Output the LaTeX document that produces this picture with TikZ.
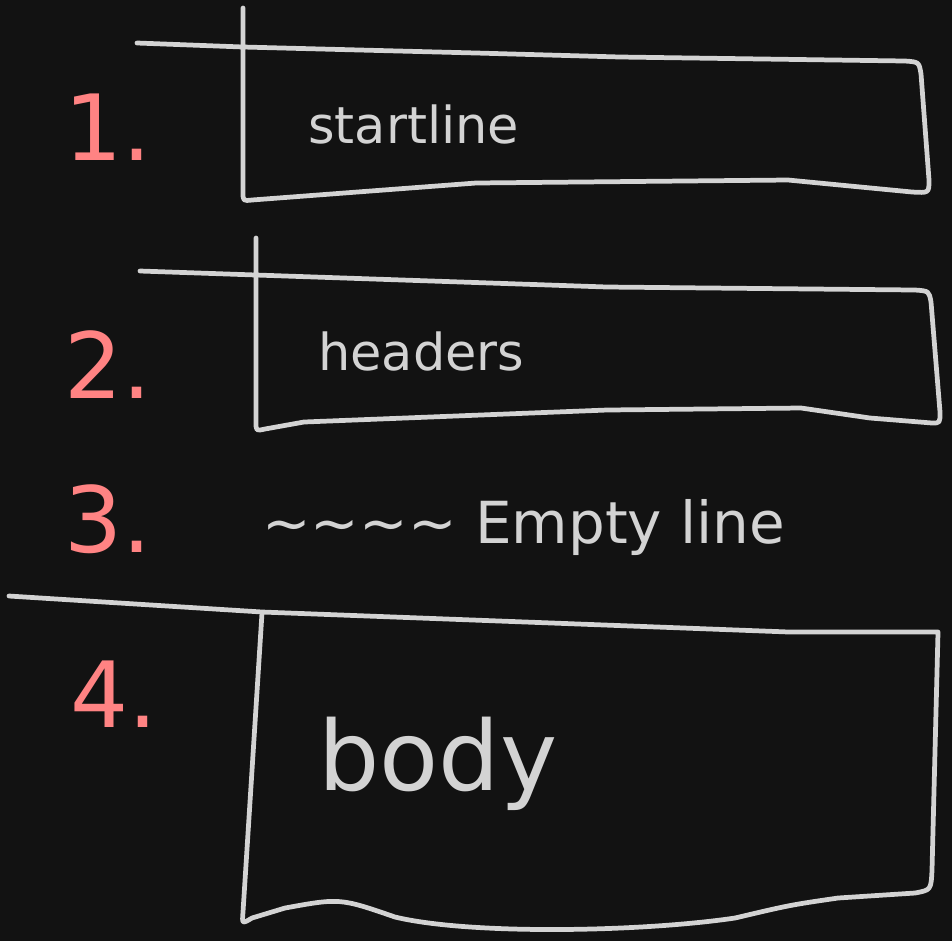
\documentclass[tikz,border=0pt]{standalone}
\usepackage{fontspec}
\setmainfont{DejaVu Sans}
\usepackage{xcolor}
\definecolor{bg}{HTML}{121212}
\definecolor{chalk}{HTML}{D3D3D3}
\definecolor{salmon}{HTML}{FF8383}

\begin{document}
\begin{tikzpicture}[x=0.02cm, y=-0.02cm,
        sketch/.style={draw=chalk, line width=2.7pt, line cap=round, line join=round},
        num/.style={anchor=base west, inner sep=0pt, text=salmon, font=\fontsize{52}{52}\selectfont},
        lbl/.style={anchor=base west, inner sep=0pt, text=chalk, font=\fontsize{29}{29}\selectfont}]
        \fill[bg] (0,0) rectangle (952,941);
        \useasboundingbox (0,0) rectangle (952,941);

        % 1. startline
        \draw[sketch] (243,8) -- (243,192) .. controls (243,201) .. (252,200)
            -- (476,183) -- (788,180) -- (850,186) -- (912,192)
            .. controls (929,193) .. (929,180) -- (921,74)
            .. controls (919,62) .. (905,61) -- (620,57) -- (476,53) -- (243,47) -- (137,43);
        \node[num] at (64,160) (n1) {1.};
        \node[lbl] at (308,143) (startline) {startline};

        % 2. headers
        \draw[sketch] (256,238) -- (256,422) .. controls (256,431) .. (265,429)
            -- (304,422) -- (607,410) -- (801,408) -- (870,418) -- (932,423)
            .. controls (940,423) .. (940,412) -- (931,302)
            .. controls (929,291) .. (915,290) -- (607,287) -- (256,275) -- (140,271);
        \node[num] at (64,398) (n2) {2.};
        \node[lbl] at (318,370) (headers) {headers};

        % 3. empty line
        \node[num] at (64,552) (n3) {3.};
        \node[lbl, font=\fontsize{33}{33}\selectfont] at (262,543) (emptyline)
            {\textasciitilde\textasciitilde\textasciitilde\textasciitilde{} Empty line};

        % 4. body
        \draw[sketch] (262,613) -- (243,912) .. controls (242,924) .. (252,918)
            -- (285,908) .. controls (340,898) .. (395,917)
            .. controls (470,935) and (640,932) .. (735,918)
            .. controls (790,905) .. (838,898) -- (915,893)
            .. controls (931,890) .. (932,870) -- (938,632)
            -- (789,632) -- (262,612) -- (9,596);
        \node[num] at (70,727) (n4) {4.};
        \node[lbl, font=\fontsize{55}{55}\selectfont] at (318,790) (body) {body};
    \end{tikzpicture}
\end{document}
